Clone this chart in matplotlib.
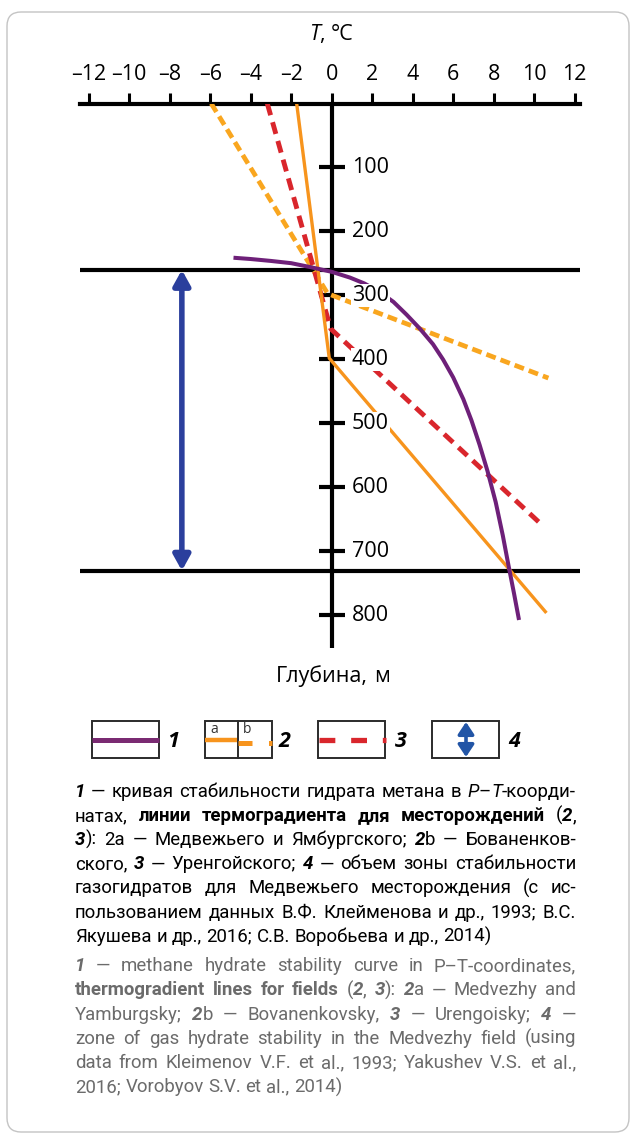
import matplotlib
matplotlib.use("Agg")
import matplotlib.pyplot as plt
from matplotlib.patches import Rectangle, FancyBboxPatch

# ---------------------------------------------------------------- data
temp_ticks = [-12, -10, -8, -6, -4, -2, 0, 2, 4, 6, 8, 10, 12]
temp_tick_labels = ["–12", "–10", "–8", "–6", "–4", "–2", "0", "2", "4", "6", "8", "10", "12"]
depth_ticks = [100, 200, 300, 400, 500, 600, 700, 800]
depth_tick_labels = ["100", "200", "300", "400", "500", "600", "700", "800"]

# 1 - methane hydrate stability curve
stability_T = [-4.85, -4.0, -3.0, -2.0, -1.0, 0.0, 0.9, 1.6, 2.3, 3.05, 3.7, 4.36, 5.0, 5.5,
               6.0, 6.5, 6.9, 7.3, 7.7, 8.1, 8.45, 8.72, 9.0, 9.25]
stability_depth = [241, 243, 246, 249.5, 256, 263, 272, 281, 293, 310, 330, 352, 376, 400,
                   428, 462, 495, 533, 575, 623, 675, 720, 765, 807]

# 2a - Medvezhy and Yamburgsky thermogradient
grad_2a_T = [-1.73, -0.12, 10.55]
grad_2a_depth = [0, 398, 794]
# 2b - Bovanenkovsky thermogradient
grad_2b_T = [-5.95, -0.2, 10.7]
grad_2b_depth = [0, 297, 429]
# 3 - Urengoisky thermogradient
grad_3_T = [-3.18, -0.05, 10.4]
grad_3_depth = [0, 352, 659]

# 4 - gas hydrate stability zone of the Medvezhy field
zone_top = 260
zone_bottom = 730
zone_arrow_T = -7.4

# ---------------------------------------------------------------- style
W, H, DPI = 636, 1139, 100
FONT = ["Open Sans", "DejaVu Sans"]
CAP_FONT = ["Roboto", "Open Sans", "DejaVu Sans"]
plt.rcParams["font.family"] = FONT

C_PURPLE = "#6e2079"
C_ORANGE = "#f7941d"
C_ORANGE_D = "#f9a61f"
C_RED = "#d9262c"
C_BLUE = "#2b3f9d"
C_GRAY = "#6b6b6b"

fig = plt.figure(figsize=(W / DPI, H / DPI), dpi=DPI)

# decoration layer in pixel units (frame, legend, caption)
deco = fig.add_axes([0, 0, 1, 1])
deco.set_xlim(0, W)
deco.set_ylim(H, 0)
deco.axis("off")

deco.add_patch(FancyBboxPatch((7, 12), 622, 1120, boxstyle="round,pad=0,rounding_size=14",
                              facecolor="white", edgecolor="#c4c4c4", lw=1.0))

# chart axes placed so that T=0 / depth=0 sit at the axis cross
T0_px, px_per_deg = 331.7, 20.25
D0_px, px_per_m = 103.5, 0.64
xlim = (-12.45, 12.25)
ylim = (860, 0)
left = T0_px + xlim[0] * px_per_deg
right = T0_px + xlim[1] * px_per_deg
top = D0_px
bottom = D0_px + ylim[0] * px_per_m
ax = fig.add_axes([left / W, 1 - bottom / H, (right - left) / W, (bottom - top) / H])
ax.set_xlim(*xlim)
ax.set_ylim(*ylim)
ax.patch.set_visible(False)
for s in ("left", "right", "bottom"):
    ax.spines[s].set_visible(False)
ax.spines["top"].set_linewidth(3)
ax.xaxis.tick_top()
ax.set_xticks(temp_ticks, temp_tick_labels)
ax.tick_params(axis="x", direction="out", length=8, width=2.2, pad=5, labelsize=15.5)
ax.set_yticks([])

# depth axis with its ticks and labels
ax.plot([0, 0], [0, 851], color="k", lw=3, solid_capstyle="butt", zorder=2)
ax.hlines(depth_ticks, -0.65, 0.65, color="k", lw=3, zorder=2)
for d, lab in zip(depth_ticks, depth_tick_labels):
    ax.text(1.0, d, lab, ha="left", va="center", fontsize=15.5, zorder=6,
            bbox=dict(facecolor="white", edgecolor="none", pad=0.5))

# zone boundaries
for d in (zone_top, zone_bottom):
    ax.axhline(d, color="k", lw=3, zorder=2)

# curves
ax.plot(grad_2b_T, grad_2b_depth, color=C_ORANGE_D, lw=3.4, dashes=(2.1, 1.1), zorder=3)
ax.plot(grad_3_T, grad_3_depth, color=C_RED, lw=3.5, dashes=(2.5, 1.5), zorder=3)
ax.plot(grad_2a_T, grad_2a_depth, color=C_ORANGE, lw=2.4, zorder=4)
ax.plot(stability_T, stability_depth, color=C_PURPLE, lw=2.9, zorder=4,
        solid_capstyle="butt", solid_joinstyle="round")

ax.annotate("", xy=(zone_arrow_T, zone_bottom), xytext=(zone_arrow_T, zone_top),
            arrowprops=dict(arrowstyle="<|-|>,head_length=0.9,head_width=0.5", lw=4,
                            color=C_BLUE, mutation_scale=10, shrinkA=0, shrinkB=0), zorder=3)

# ---------------------------------------------------------------- rich text helpers
STYLES = {
    "r": dict(),
    "b": dict(fontweight="bold"),
    "i": dict(fontstyle="italic"),
    "bi": dict(fontweight="bold", fontstyle="italic"),
}
fig.canvas.draw()
renderer = fig.canvas.get_renderer()


def text_width(txt, style, size, family):
    t = deco.text(0, 0, txt, fontsize=size, family=family, **STYLES[style])
    w = t.get_window_extent(renderer).width
    t.remove()
    return w


def split_words(runs):
    words, cur = [], []
    for style, txt in runs:
        parts = txt.split(" ")
        for k, p in enumerate(parts):
            if k > 0:
                if cur:
                    words.append(cur)
                cur = []
            if p:
                cur.append((style, p))
    if cur:
        words.append(cur)
    return words


def space_width(size, family):
    return text_width("a a", "r", size, family) - text_width("aa", "r", size, family)


def natural_width(runs, size, family):
    words = split_words(runs)
    tot = sum(text_width(t, s, size, family) for w in words for s, t in w)
    return tot + space_width(size, family) * (len(words) - 1)


def draw_line(runs, x0, y, size, color, family, width=None, align="left"):
    words = split_words(runs)
    widths = [[text_width(t, s, size, family) for s, t in w] for w in words]
    tot = sum(sum(w) for w in widths)
    gap = space_width(size, family)
    if width is not None and len(words) > 1:
        gap = (width - tot) / (len(words) - 1)
    full = tot + gap * (len(words) - 1)
    x = x0 - full / 2 if align == "center" else x0
    for w, ws in zip(words, widths):
        for (s, t), wd in zip(w, ws):
            deco.text(x, y, t, fontsize=size, color=color, family=family,
                      ha="left", va="baseline", **STYLES[s])
            x += wd
        x += gap


# axis titles
draw_line([("i", "T"), ("r", ", °C")], 331, 40, 15.5, "k", FONT, align="center")
draw_line([("r", "Глубина, м")], 333, 682, 15.5, "k", FONT, align="center")

# ---------------------------------------------------------------- legend
box_y, box_h = 721, 37
for bx in (92, 205, 318, 432):
    deco.add_patch(Rectangle((bx, box_y), 67, box_h, facecolor="white", edgecolor="#2b2b2b", lw=1.4))
deco.plot([238, 238], [box_y, box_y + box_h], color="#2b2b2b", lw=1.4)
deco.plot([92, 159], [739.5, 739.5], color="#7a2a72", lw=3.6, solid_capstyle="butt")
deco.plot([205, 237], [739.5, 739.5], color=C_ORANGE, lw=3.2, solid_capstyle="butt")
deco.plot([238, 272], [742.5, 742.5], color=C_ORANGE, lw=3.6, dashes=(2.8, 3.3), solid_capstyle="butt")
deco.plot([319, 386], [740, 740], color=C_RED, lw=3.8, dashes=(3.0, 3.0))
deco.annotate("", xy=(466, 757), xytext=(466, 722),
              arrowprops=dict(arrowstyle="<|-|>,head_length=0.9,head_width=0.6", lw=2.6,
                              color="#2255a6", mutation_scale=8, shrinkA=0, shrinkB=0))
deco.text(210, 733, "a", fontsize=10, ha="left", va="baseline", color="#333333")
deco.text(243, 733, "b", fontsize=10, ha="left", va="baseline", color="#333333")
for lx, lab in zip((167, 279, 395, 508), ("1", "2", "3", "4")):
    deco.text(lx, 747, lab, fontsize=15.5, fontweight="bold", fontstyle="italic", ha="left", va="baseline")

# ---------------------------------------------------------------- caption
ru_lines = [
    [("bi", "1"), ("r", " — кривая стабильности гидрата метана в "), ("i", "P"), ("r", "–"), ("i", "T"), ("r", "-коорди-")],
    [("r", "натах, "), ("b", "линии термоградиента для месторождений"), ("r", " ("), ("bi", "2"), ("r", ",")],
    [("bi", "3"), ("r", "): 2а — Медвежьего и Ямбургского; "), ("bi", "2"), ("r", "b — Бованенков-")],
    [("r", "ского, "), ("bi", "3"), ("r", " — Уренгойского; "), ("bi", "4"), ("r", " — объем зоны стабильности")],
    [("r", "газогидратов для Медвежьего месторождения (с ис-")],
    [("r", "пользованием данных В.Ф. Клейменова и др., 1993; В.С.")],
    [("r", "Якушева и др., 2016; С.В. Воробьева и др., 2014)")],
]
en_lines = [
    [("bi", "1"), ("r", " — methane hydrate stability curve in P–T-coordinates,")],
    [("b", "thermogradient lines for fields"), ("r", " ("), ("bi", "2"), ("r", ", "), ("bi", "3"), ("r", "): "),
     ("bi", "2"), ("r", "a — Medvezhy and")],
    [("r", "Yamburgsky; "), ("bi", "2"), ("r", "b — Bovanenkovsky, "), ("bi", "3"), ("r", " — Urengoisky; "),
     ("bi", "4"), ("r", " —")],
    [("r", "zone of gas hydrate stability in the Medvezhy field (using")],
    [("r", "data from Kleimenov V.F. et al., 1993; Yakushev V.S. et al.,")],
    [("r", "2016; Vorobyov S.V. et al., 2014)")],
]

text_left, text_right = 75, 576
block_w = text_right - text_left
base = 15.0
widest = max(natural_width(l, base, CAP_FONT) for l in ru_lines[:-1] + en_lines[:-1])
cap_size = min(base, base * (block_w - 6) / widest)

y = 797
for k, line in enumerate(ru_lines):
    last = k == len(ru_lines) - 1
    draw_line(line, text_left, y, cap_size, "k", CAP_FONT, None if last else block_w)
    y += 24.1
y = 971
for k, line in enumerate(en_lines):
    last = k == len(en_lines) - 1
    draw_line(line, text_left, y, cap_size, C_GRAY, CAP_FONT, None if last else block_w)
    y += 24.3

fig.savefig("out.png", dpi=DPI, facecolor="white")
